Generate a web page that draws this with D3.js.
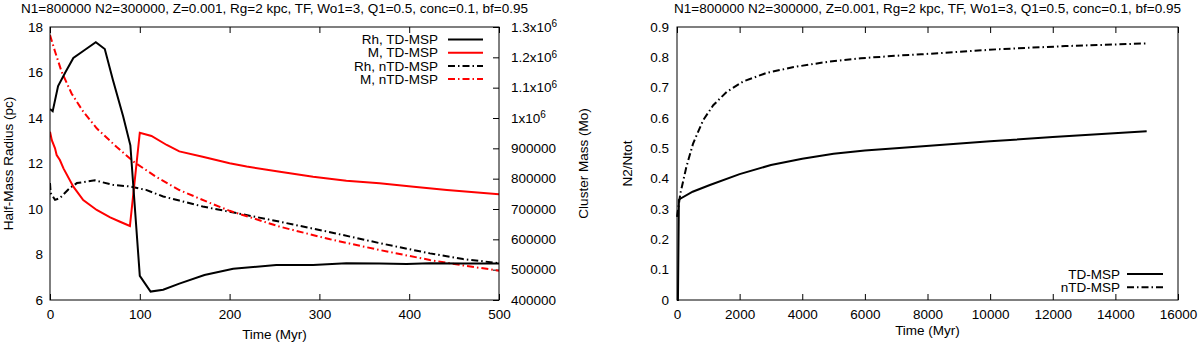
<!DOCTYPE html>
<html><head><meta charset="utf-8">
<script src="https://cdn.jsdelivr.net/npm/d3@7"></script>
<style>
html,body{margin:0;padding:0;background:#fff;}
svg text{font-family:"Liberation Sans",Arial,sans-serif;font-size:13.5px;fill:#000;}
</style></head>
<body><svg id="c" width="1200" height="344"></svg>
<script>
// ---------- DATA ----------
const titleText = "N1=800000 N2=300000, Z=0.001, Rg=2 kpc, TF, Wo1=3, Q1=0.5, conc=0.1, bf=0.95";

// Left panel: half-mass radius (left axis) and cluster mass (right axis) vs time
const rhTdTime = [0,3,9,17,26,39,51,61,70,81.5,89.5,100,112,126,144,172,204,252,293,330,367,397,423,460,500];
const rhTdVal  = [14.4,14.3,15.4,16.0,16.64,17.0,17.33,17.03,15.68,14.07,12.8,7.06,6.37,6.45,6.72,7.1,7.37,7.54,7.54,7.61,7.6,7.58,7.61,7.6,7.6];

const mTdTime = [0,2,5.6,7.4,11,15,26,37,52,67,78,89,100,113,130,144,170,200,219,256,293,330,367,405,442,500];
const mTdVal  = [955000,927000,900000,878000,861500,834000,773600,729700,696700,672500,658000,643900,951600,940700,911000,890000,872000,851000,840000,823000,806500,793400,784600,773600,762600,748400];

const rhNtdTime = [0,0.7,5.6,11,22,30,50,70,89,107,126,144,170,200,256,312,367,423,460,500];
const rhNtdVal  = [11.14,10.7,10.4,10.48,10.92,11.14,11.26,11.06,10.99,10.84,10.55,10.37,10.11,9.88,9.44,8.98,8.5,8.05,7.8,7.62];

const mNtdTime = [0,5.6,13,24,37,52,74,93,118,144,174,200,256,312,367,423,460,500];
const mNtdVal  = [1273600,1219000,1152000,1081000,1021000,966000,905000,856000,806500,762600,725000,694000,641600,600000,564800,531900,514000,496700];

const leftXTicks  = [0,100,200,300,400,500];
const leftYTicks  = [6,8,10,12,14,16,18];
const rightAxisTicks = [400000,500000,600000,700000,800000,900000,1000000,1100000,1200000,1300000];
const rightAxisLabels = [["400000",""],["500000",""],["600000",""],["700000",""],["800000",""],["900000",""],["1x10","6"],["1.1x10","6"],["1.2x10","6"],["1.3x10","6"]];
const leftLegend = ["Rh, TD-MSP","M, TD-MSP","Rh, nTD-MSP","M, nTD-MSP"];

// Right panel: N2/Ntot vs time
const tdTime = [0,30,60,90,500,1050,2000,3000,4000,5000,6000,7100,10000,12000,15000];
const tdVal  = [0,0,0.33,0.333,0.357,0.379,0.415,0.445,0.466,0.482,0.493,0.501,0.523,0.537,0.556];
const ntdTime = [0,107,300,514,836,1157,1586,2122,2872,3730,4800,5873,7113,7800,10300,12400,15000];
const ntdVal  = [0.274,0.351,0.439,0.516,0.593,0.642,0.686,0.721,0.749,0.768,0.785,0.797,0.806,0.81,0.827,0.837,0.846];
const rightXTicks = [0,2000,4000,6000,8000,10000,12000,14000,16000];
const rightYTicks = [0,0.1,0.2,0.3,0.4,0.5,0.6,0.7,0.8,0.9];
const rightLegend = ["TD-MSP","nTD-MSP"];

// ---------- DRAW ----------
const svg = d3.select("#c");
const DASH = "7,3,1.5,3";
const LW = 2;
const FONT = "'Liberation Sans',Arial,sans-serif";

function zip(t,v){ return t.map((d,i)=>[d,v[i]]); }

function xAxisBoth(g, x, ticks, top, bottom){
  g.append("g").attr("transform",`translate(0,${bottom})`)
    .call(d3.axisBottom(x).tickValues(ticks).tickSize(-6).tickPadding(9).tickFormat(d3.format("d")))
    .call(a=>a.select(".domain").remove());
  g.append("g").attr("transform",`translate(0,${top})`)
    .call(d3.axisTop(x).tickValues(ticks).tickSize(-6).tickFormat(""))
    .call(a=>a.select(".domain").remove());
}

// ---- Left panel ----
const L = {l:50,r:499,t:27,b:300};
const xL = d3.scaleLinear().domain([0,500]).range([L.l,L.r]);
const yL = d3.scaleLinear().domain([6,18]).range([L.b,L.t]);
const yM = d3.scaleLinear().domain([400000,1300000]).range([L.b,L.t]);
const gl = svg.append("g");

gl.append("text").attr("x",(L.l+L.r)/2).attr("y",13).attr("text-anchor","middle").text(titleText);
xAxisBoth(gl, xL, leftXTicks, L.t, L.b);
gl.append("g").attr("transform",`translate(${L.l},0)`)
  .call(d3.axisLeft(yL).tickValues(leftYTicks).tickSize(0).tickPadding(7))
  .call(a=>a.select(".domain").remove());
const ra = gl.append("g").attr("transform",`translate(${L.r},0)`)
  .call(d3.axisRight(yM).tickValues(rightAxisTicks).tickSize(-6).tickPadding(12).tickFormat(""))
  .call(a=>a.select(".domain").remove());
ra.selectAll(".tick").each(function(d,i){
  const t = d3.select(this).select("text");
  t.attr("dy","0.32em");
  t.append("tspan").text(rightAxisLabels[i][0]);
  if(rightAxisLabels[i][1]) t.append("tspan").attr("dy","-0.45em").style("font-size","10px").text(rightAxisLabels[i][1]);
});
gl.selectAll(".tick text").style("font-family",FONT).style("font-size","13.5px");
ra.selectAll(".tick text tspan:nth-child(2)").style("font-size","10px");
gl.selectAll(".tick line").attr("stroke","#000");

gl.append("text").attr("transform",`translate(13,${(L.t+L.b)/2}) rotate(-90)`).attr("text-anchor","middle").text("Half-Mass Radius (pc)");
gl.append("text").attr("transform",`translate(588,${(L.t+L.b)/2}) rotate(-90)`).attr("text-anchor","middle").text("Cluster Mass (Mo)");
gl.append("text").attr("x",(L.l+L.r)/2).attr("y",339).attr("text-anchor","middle").text("Time (Myr)");

const lineRh = d3.line().x(d=>xL(d[0])).y(d=>yL(d[1]));
const lineM  = d3.line().x(d=>xL(d[0])).y(d=>yM(d[1]));
svg.append("clipPath").attr("id","clipL").append("rect").attr("x",L.l).attr("y",L.t).attr("width",L.r-L.l).attr("height",L.b-L.t);
const pl = gl.append("g").attr("clip-path","url(#clipL)");
pl.append("path").attr("d",lineRh(zip(rhNtdTime,rhNtdVal))).attr("fill","none").attr("stroke","#000").attr("stroke-width",LW).attr("stroke-dasharray",DASH);
pl.append("path").attr("d",lineM(zip(mNtdTime,mNtdVal))).attr("fill","none").attr("stroke","#f00").attr("stroke-width",LW).attr("stroke-dasharray",DASH);
pl.append("path").attr("d",lineM(zip(mTdTime,mTdVal))).attr("fill","none").attr("stroke","#f00").attr("stroke-width",LW);
pl.append("path").attr("d",lineRh(zip(rhTdTime,rhTdVal))).attr("fill","none").attr("stroke","#000").attr("stroke-width",LW);

gl.append("rect").attr("x",L.l).attr("y",L.t).attr("width",L.r-L.l).attr("height",L.b-L.t).attr("fill","none").attr("stroke","#000").attr("stroke-width",1);

const legStyles = [{c:"#000",d:null},{c:"#f00",d:null},{c:"#000",d:DASH},{c:"#f00",d:DASH}];
leftLegend.forEach((s,i)=>{
  const y = 39.5 + i*13.2;
  gl.append("text").attr("x",438).attr("y",y).attr("dy","0.35em").attr("text-anchor","end").text(s);
  gl.append("line").attr("x1",448).attr("x2",483).attr("y1",y).attr("y2",y)
    .attr("stroke",legStyles[i].c).attr("stroke-width",LW).attr("stroke-dasharray",legStyles[i].d);
});

// ---- Right panel ----
const R = {l:677,r:1178,t:27,b:300};
const xR = d3.scaleLinear().domain([0,16000]).range([R.l,R.r]);
const yR = d3.scaleLinear().domain([0,0.9]).range([R.b,R.t]);
const gr = svg.append("g");
gr.append("text").attr("x",(R.l+R.r)/2).attr("y",13).attr("text-anchor","middle").text(titleText);
xAxisBoth(gr, xR, rightXTicks, R.t, R.b);
gr.append("g").attr("transform",`translate(${R.l},0)`)
  .call(d3.axisLeft(yR).tickValues(rightYTicks).tickSize(0).tickPadding(8).tickFormat(d=>d3.format("")(+d.toFixed(1))))
  .call(a=>a.select(".domain").remove());
gr.selectAll(".tick text").style("font-family",FONT).style("font-size","13.5px");
gr.selectAll(".tick line").attr("stroke","#000");
gr.append("text").attr("transform",`translate(632,${(R.t+R.b)/2}) rotate(-90)`).attr("text-anchor","middle").text("N2/Ntot");
gr.append("text").attr("x",(R.l+R.r)/2).attr("y",335).attr("text-anchor","middle").text("Time (Myr)");

const lineR = d3.line().x(d=>xR(d[0])).y(d=>yR(d[1]));
gr.append("path").attr("d",lineR(zip(ntdTime,ntdVal))).attr("fill","none").attr("stroke","#000").attr("stroke-width",LW).attr("stroke-dasharray",DASH);
gr.append("path").attr("d",lineR(zip(tdTime,tdVal))).attr("fill","none").attr("stroke","#000").attr("stroke-width",LW);
gr.append("rect").attr("x",R.l).attr("y",R.t).attr("width",R.r-R.l).attr("height",R.b-R.t).attr("fill","none").attr("stroke","#000").attr("stroke-width",1);

const rLeg = [{d:null},{d:DASH}];
rightLegend.forEach((s,i)=>{
  const y = 274 + i*13.3;
  gr.append("text").attr("x",1120).attr("y",y).attr("dy","0.35em").attr("text-anchor","end").text(s);
  gr.append("line").attr("x1",1127).attr("x2",1163).attr("y1",y).attr("y2",y)
    .attr("stroke","#000").attr("stroke-width",LW).attr("stroke-dasharray",rLeg[i].d);
});
</script></body></html>
